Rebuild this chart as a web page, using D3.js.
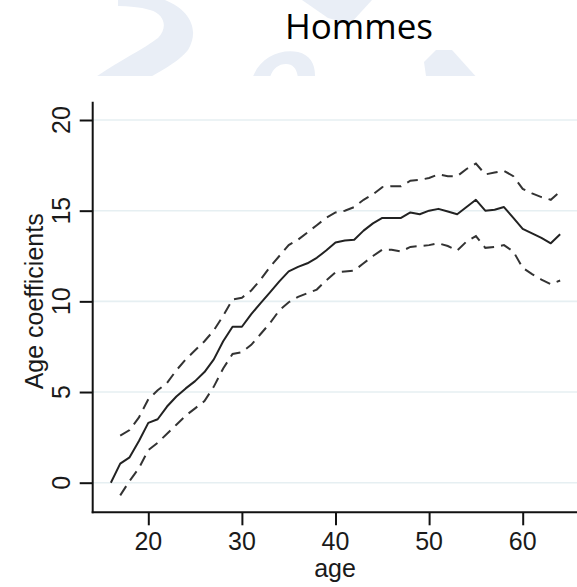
<!DOCTYPE html>
<html><head><meta charset="utf-8">
<script src="https://cdn.jsdelivr.net/npm/d3@7"></script>
<style>html,body{margin:0;padding:0;background:#fff;}svg{display:block;}</style>
</head><body>
<script>
const title = "Hommes";
const xLabel = "age";
const yLabel = "Age coefficients";
const ages = d3.range(16, 65);
const coef = [0, 1.05, 1.4, 2.3, 3.3, 3.5, 4.2, 4.75, 5.2, 5.6, 6.1, 6.8, 7.8, 8.6, 8.6,
  9.3, 9.9, 10.5, 11.1, 11.65, 11.9, 12.1, 12.4, 12.8, 13.25, 13.35, 13.4, 13.9, 14.3, 14.6,
  14.6, 14.6, 14.9, 14.8, 15.0, 15.1, 14.95, 14.8, 15.2, 15.6, 15.0, 15.05, 15.2, 14.6, 14.0,
  13.75, 13.5, 13.2, 13.7];
const upper = [null, 2.6, 2.9, 3.6, 4.6, 5.1, 5.5, 6.2, 6.8, 7.3, 7.8, 8.4, 9.2, 10.1, 10.2,
  10.6, 11.2, 11.9, 12.5, 13.1, 13.4, 13.8, 14.2, 14.6, 14.9, 15.0, 15.2, 15.6, 15.9, 16.3,
  16.35, 16.35, 16.65, 16.7, 16.8, 17.0, 16.9, 16.9, 17.3, 17.6, 17.0, 17.1, 17.2, 16.9, 16.2,
  15.95, 15.75, 15.6, 16.05];
const lower = [null, -0.7, 0.1, 0.8, 1.8, 2.2, 2.7, 3.2, 3.7, 4.1, 4.5, 5.3, 6.3, 7.1, 7.2,
  7.6, 8.2, 8.8, 9.5, 9.95, 10.25, 10.45, 10.65, 11.15, 11.6, 11.65, 11.7, 12.1, 12.5, 12.85,
  12.85, 12.75, 13.0, 13.05, 13.1, 13.2, 13.05, 12.8, 13.3, 13.6, 12.95, 13.0, 13.1, 12.75, 11.85,
  11.5, 11.2, 10.95, 11.15];
const xTicks = [20, 30, 40, 50, 60];
const yTicks = [0, 5, 10, 15, 20];

const W = 577, H = 587;
const svg = d3.select("body").append("svg").attr("width", W).attr("height", H);

// watermark shapes (decorative, behind the title)
svg.append("clipPath").attr("id", "wmclip").append("rect").attr("x", 0).attr("y", 0).attr("width", W).attr("height", 76);
const wm = svg.append("g").attr("fill", "#e9eef6").attr("clip-path", "url(#wmclip)");
wm.append("path").attr("d", "M118,0 L165,0 C190,10 200,30 188,50 C175,66 150,76 128,90 L80,90 C100,70 140,52 158,38 C168,28 165,14 150,10 C140,7 128,6 118,6 Z");
wm.append("path").attr("d", "M250,90 C252,62 276,48 298,52 C314,56 318,70 313,90 L297,90 C300,74 296,64 286,64 C274,64 268,76 268,90 Z");
wm.append("path").attr("d", "M302,0 L372,0 L350,24 L328,18 Z");
wm.append("path").attr("d", "M436,50 L452,50 L488,90 L428,90 L424,62 Z");

const x = d3.scaleLinear().domain([20, 60]).range([148.3, 522.7]);
const y = d3.scaleLinear().domain([0, 20]).range([482.7, 120]);
const axX = 92.7, axY = 512.3;

// gridlines
svg.append("g").selectAll("line").data(yTicks).join("line")
  .attr("x1", axX).attr("x2", W).attr("y1", d => y(d)).attr("y2", d => y(d))
  .attr("stroke", "#e6eff2").attr("stroke-width", 1.6);

// y axis
const yAxis = svg.append("g").attr("transform", `translate(${axX},0)`)
  .call(d3.axisLeft(y).tickValues(yTicks).tickSize(13).tickFormat(""));
yAxis.select(".domain").remove();
yAxis.selectAll(".tick line").attr("stroke", "#111").attr("stroke-width", 2);
svg.append("line").attr("x1", axX).attr("x2", axX).attr("y1", 101.7).attr("y2", axY + 1)
  .attr("stroke", "#111").attr("stroke-width", 2);
svg.append("g").selectAll("text").data(yTicks).join("text")
  .attr("transform", d => `translate(70,${y(d)}) rotate(-90)`)
  .attr("text-anchor", "middle")
  .attr("font-family", "Liberation Sans, Arial, sans-serif").attr("font-size", 25)
  .attr("fill", "#1a1a1a").text(d => d);

// x axis
const xAxis = svg.append("g").attr("transform", `translate(0,${axY})`)
  .call(d3.axisBottom(x).tickValues(xTicks).tickSize(13).tickFormat(""));
xAxis.select(".domain").remove();
xAxis.selectAll(".tick line").attr("stroke", "#111").attr("stroke-width", 2);
svg.append("line").attr("x1", axX - 1).attr("x2", W).attr("y1", axY).attr("y2", axY)
  .attr("stroke", "#111").attr("stroke-width", 2);
svg.append("g").selectAll("text").data(xTicks).join("text")
  .attr("x", d => x(d)).attr("y", 550)
  .attr("text-anchor", "middle")
  .attr("font-family", "Liberation Sans, Arial, sans-serif").attr("font-size", 25)
  .attr("fill", "#1a1a1a").text(d => d);

// axis titles
svg.append("text").attr("x", 335).attr("y", 577).attr("text-anchor", "middle")
  .attr("font-family", "Liberation Sans, Arial, sans-serif").attr("font-size", 25)
  .attr("fill", "#1a1a1a").text(xLabel);
svg.append("text").attr("transform", `translate(43,${y(10)}) rotate(-90)`).attr("text-anchor", "middle")
  .attr("font-family", "Liberation Sans, Arial, sans-serif").attr("font-size", 25)
  .attr("fill", "#1a1a1a").text(yLabel);

// title
svg.append("text").attr("x", 359).attr("y", 39).attr("text-anchor", "middle")
  .attr("font-family", "Open Sans, sans-serif").attr("font-size", 35)
  .attr("fill", "#000").text(title);

// lines
const mk = arr => d3.line().defined((d, i) => arr[i] != null)
  .x((d, i) => x(ages[i])).y((d, i) => y(arr[i]));
svg.append("path").datum(upper).attr("d", mk(upper)).attr("fill", "none")
  .attr("stroke", "#333").attr("stroke-width", 2).attr("stroke-dasharray", "11,7");
svg.append("path").datum(lower).attr("d", mk(lower)).attr("fill", "none")
  .attr("stroke", "#333").attr("stroke-width", 2).attr("stroke-dasharray", "11,7");
svg.append("path").datum(coef).attr("d", mk(coef)).attr("fill", "none")
  .attr("stroke", "#222").attr("stroke-width", 2).attr("stroke-linejoin", "round");
</script>
</body></html>
